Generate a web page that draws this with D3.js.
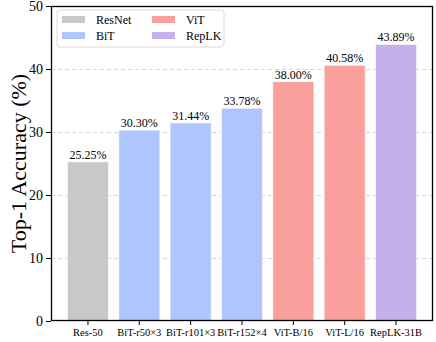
<!DOCTYPE html>
<html>
<head>
<meta charset="utf-8">
<script src="https://cdn.jsdelivr.net/npm/d3@7"></script>
<style>
  body { margin: 0; background: #fff; }
  text { font-family: "Liberation Serif", "DejaVu Serif", serif; fill: #000; }
</style>
</head>
<body>
<div id="chart"></div>
<script>
// data
var models = ["Res-50", "BiT-r50\u00d73", "BiT-r101\u00d73", "BiT-r152\u00d74", "ViT-B/16", "ViT-L/16", "RepLK-31B"];
var accuracy = [25.25, 30.30, 31.44, 33.78, 38.00, 40.58, 43.89];
var family = ["ResNet", "BiT", "BiT", "BiT", "ViT", "ViT", "RepLK"];
var families = ["ResNet", "BiT", "ViT", "RepLK"];
var familyColors = ["#c8c8c8", "#aec6fb", "#f9a09d", "#c6b0ea"];
var yTicks = [0, 10, 20, 30, 40, 50];

var width = 436, height = 342;
var margin = {top: 6, right: 3, bottom: 21, left: 51};

var svg = d3.select("#chart")
    .append("svg")
    .attr("width", width)
    .attr("height", height);

var x = d3.scaleBand()
    .domain(models)
    .range([margin.left, width - margin.right])
    .paddingInner(0.2)
    .paddingOuter(0.32);

var y = d3.scaleLinear()
    .domain([0, 50])
    .range([height - margin.bottom, margin.top]);

var color = d3.scaleOrdinal()
    .domain(families)
    .range(familyColors);

// dashed grid
svg.append("g")
    .selectAll("line")
    .data(yTicks.filter(function (d) { return d > 0 && d < 50; }))
    .enter()
    .append("line")
    .attr("x1", margin.left)
    .attr("x2", width - margin.right)
    .attr("y1", function (d) { return y(d) + 0.5; })
    .attr("y2", function (d) { return y(d) + 0.5; })
    .attr("stroke", "#d4d0ee")
    .attr("stroke-width", 1)
    .attr("stroke-dasharray", "4,3");

// bars
svg.append("g")
    .selectAll("rect")
    .data(models)
    .enter()
    .append("rect")
    .attr("x", function (d) { return x(d); })
    .attr("y", function (d, i) { return y(accuracy[i]); })
    .attr("width", x.bandwidth())
    .attr("height", function (d, i) { return y(0) - y(accuracy[i]); })
    .attr("fill", function (d, i) { return color(family[i]); })
    .attr("stroke", "#ffffff")
    .attr("stroke-opacity", 0.6)
    .attr("stroke-width", 1);

// value labels
svg.append("g")
    .selectAll("text")
    .data(models)
    .enter()
    .append("text")
    .attr("x", function (d) { return x(d) + x.bandwidth() / 2; })
    .attr("y", function (d, i) { return y(accuracy[i]) - 3; })
    .attr("text-anchor", "middle")
    .style("font-size", "12px")
    .text(function (d, i) { return accuracy[i].toFixed(2) + "%"; });

// frame
svg.append("rect")
    .attr("x", margin.left + 0.5)
    .attr("y", margin.top + 0.5)
    .attr("width", width - margin.left - margin.right - 1)
    .attr("height", height - margin.top - margin.bottom - 1)
    .attr("fill", "none")
    .attr("stroke", "#000")
    .attr("stroke-width", 1.3);

// axes
var yAxis = svg.append("g")
    .attr("transform", "translate(" + margin.left + ",0)")
    .call(d3.axisLeft(y).tickValues(yTicks).tickSize(5).tickPadding(3));
yAxis.select(".domain").remove();
yAxis.selectAll("text").style("font-size", "14px");

var xAxis = svg.append("g")
    .attr("transform", "translate(0," + (height - margin.bottom) + ")")
    .call(d3.axisBottom(x).tickSize(4).tickPadding(4));
xAxis.select(".domain").remove();
xAxis.selectAll("text").style("font-size", "10.5px");

// y label
svg.append("text")
    .attr("transform", "translate(18," + ((margin.top + height - margin.bottom) / 2) + ") rotate(-90)")
    .attr("text-anchor", "middle")
    .attr("dy", "0.35em")
    .style("font-size", "22px")
    .text("Top-1 Accuracy (%)");

// legend
var legend = svg.append("g")
    .attr("transform", "translate(57,10)");
legend.append("rect")
    .attr("width", 167)
    .attr("height", 37)
    .attr("rx", 3)
    .attr("fill", "#fff")
    .attr("fill-opacity", 0.8)
    .attr("stroke", "#dcdcdc");

var items = legend.selectAll(".item")
    .data(families)
    .enter()
    .append("g")
    .attr("class", "item")
    .attr("transform", function (d, i) {
        return "translate(" + (5 + Math.floor(i / 2) * 90) + "," + (6 + (i % 2) * 16) + ")";
    });
items.append("rect")
    .attr("width", 23)
    .attr("height", 7)
    .attr("fill", function (d) { return color(d); });
items.append("text")
    .attr("x", 34)
    .attr("y", 4)
    .attr("dy", "0.35em")
    .style("font-size", "12px")
    .text(function (d) { return d; });
</script>
</body>
</html>
